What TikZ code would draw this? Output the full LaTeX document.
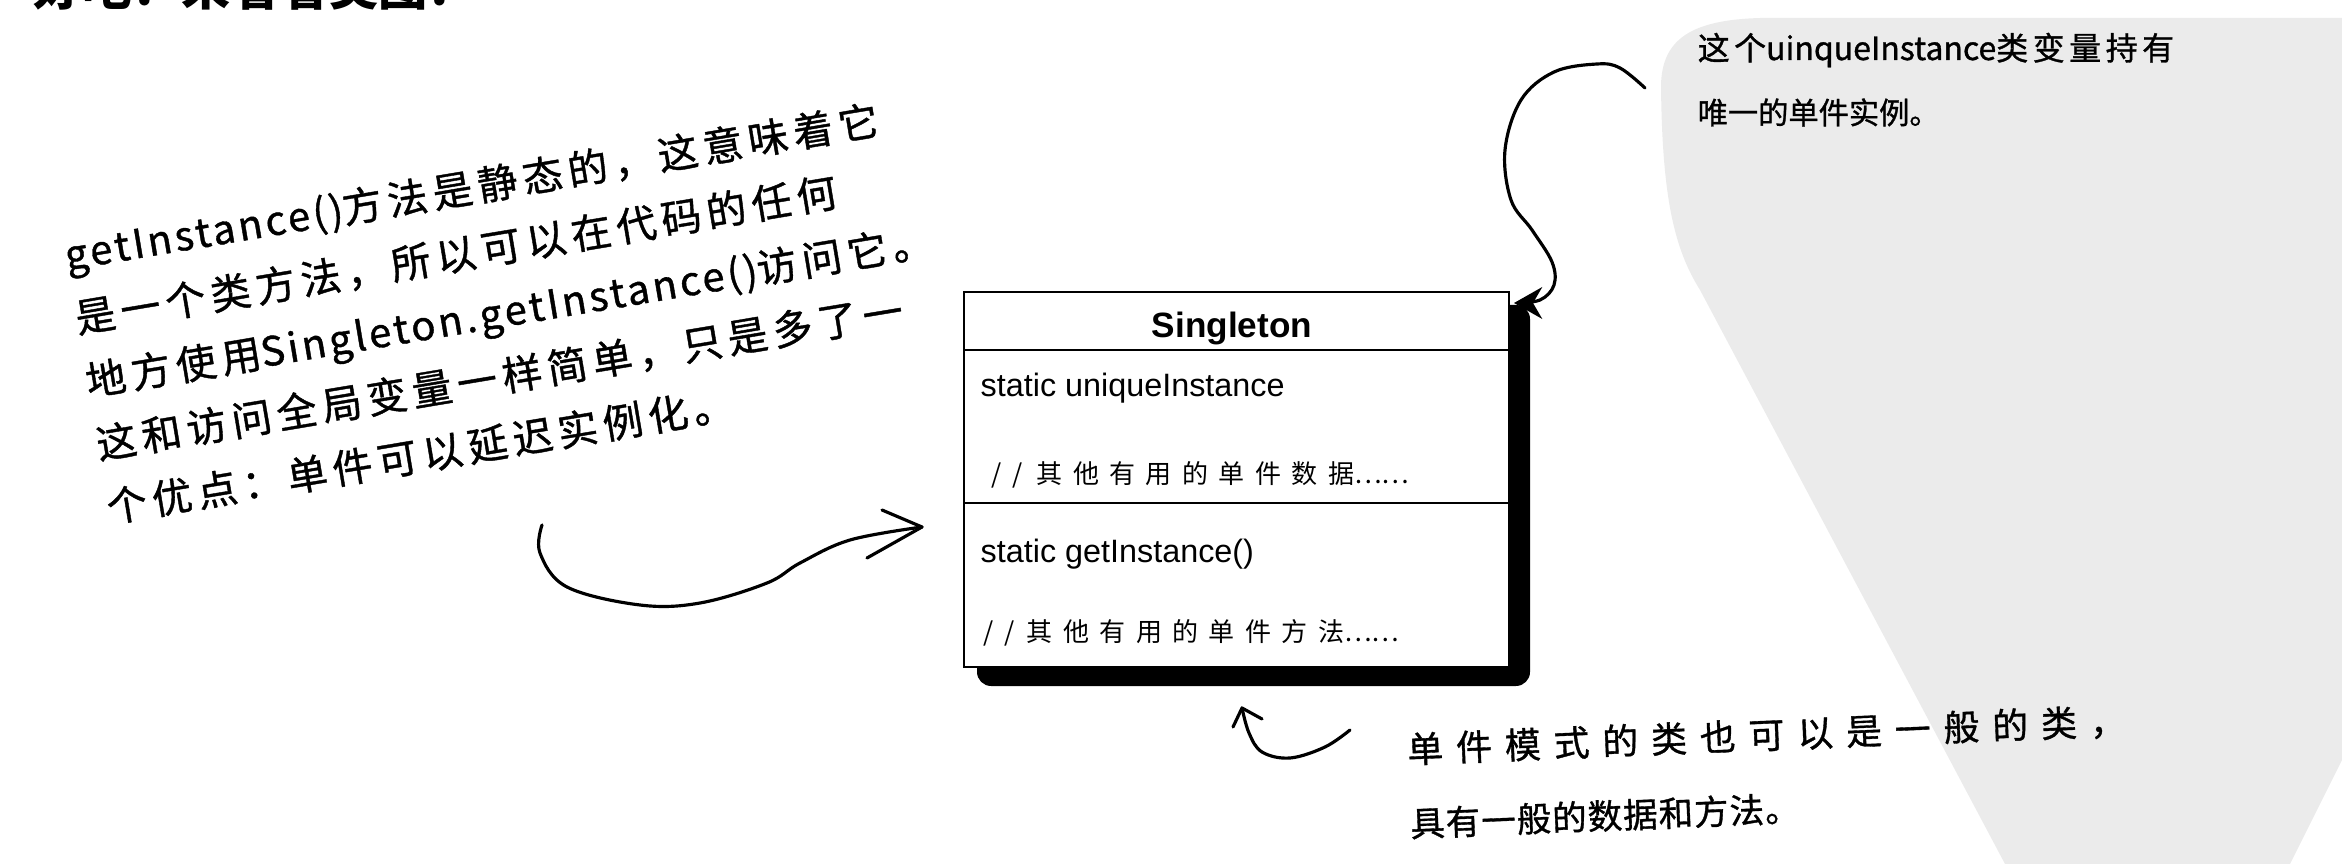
\documentclass[tikz,border=0pt]{standalone}
\usepackage{fontspec}
\setmainfont{Liberation Sans}
\newfontfamily\handA[LetterSpace=14,FakeBold=1]{Noto Sans CJK SC}
\newfontfamily\handLat[LetterSpace=8,FakeBold=1]{Noto Sans CJK SC}
\newfontfamily\handPlain[FakeBold=1]{Noto Sans CJK SC}
\newfontfamily\handB[LetterSpace=36,FakeBold=1]{Noto Sans CJK SC}
\newfontfamily\handC[LetterSpace=3,FakeBold=1]{Noto Sans CJK SC}
\newfontfamily\boxcjk[LetterSpace=40]{Noto Sans CJK SC}
\newfontfamily\boxdots{Noto Sans CJK SC}
\newfontfamily\headfont{Noto Sans CJK SC}
\usetikzlibrary{arrows.meta}
\definecolor{sealgray}{HTML}{EBEBEB}
\tikzset{
  handleft/.style={anchor=north west, inner sep=0pt, rotate=9.5, align=left,
    font=\handA\fontsize{11.4pt}{18.2pt}\selectfont},
  handtop/.style={anchor=base west, inner sep=0pt,
    font=\handA\fontsize{9.1pt}{9.1pt}\selectfont},
  handtoptwo/.style={anchor=base west, inner sep=0pt,
    font=\handPlain\fontsize{8.6pt}{8.6pt}\selectfont},
  handbot/.style={anchor=north west, inner sep=0pt, rotate=2.3, align=left,
    font=\handB\fontsize{10.2pt}{21pt}\selectfont},
  boxline/.style={line width=0.7pt, black},
  classname/.style={anchor=base, inner sep=0pt,
    font=\fontsize{10pt}{10pt}\selectfont\bfseries},
  member/.style={anchor=base west, inner sep=0pt,
    font=\fontsize{9.2pt}{9.2pt}\selectfont},
  cmt/.style={anchor=base west, inner sep=0pt,
    font=\boxcjk\fontsize{7.4pt}{7.4pt}\selectfont},
  penline/.style={line width=0.9pt, line cap=round, line join=round},
  heading/.style={anchor=base west, inner sep=0pt,
    font=\headfont\bfseries\fontsize{14pt}{14pt}\selectfont}
}
\begin{document}
\begin{tikzpicture}[x=0.01cm, y=0.01cm]
\useasboundingbox (0,0) rectangle (2342,-864);
% watermark seal background
\fill[sealgray] (1661,-85) .. controls (1662,-40) and (1690,-20) .. (1760,-18)
  -- (2342,-18) -- (2342,-760) -- (2290,-864) -- (2005,-864)
  -- (1700,-290) .. controls (1675,-250) and (1662,-200) .. cycle;

% cut-off heading
\node[heading] (head) at (33,-6) {好吧：来看看类图：};

% class box
\coordinate (boxNW) at (964,-292);
\coordinate (boxSE) at (1509,-667);
\coordinate (shNW) at (977,-305);
\coordinate (shSE) at (1530,-686);
\fill[black, rounded corners=4pt] (shNW) rectangle (shSE);
\draw[boxline, fill=white] (boxNW) rectangle (boxSE);
\draw[boxline] (964,-350) -- (1509,-350);
\draw[boxline] (964,-503) -- (1509,-503);
\node[classname] (cname) at (1232,-338) {Singleton};
\node[member] (attr) at (980,-397) {static uniqueInstance};
\node[cmt] (attrc) at (991,-484) {//\hspace{4pt}其他有用的单件数据{\boxdots ……}};
\node[member] (meth) at (980,-562) {static getInstance()};
\node[cmt] (methc) at (983,-641) {//\hspace{3.5pt}其他有用的单件方法{\boxdots ……}};

% left annotation (one rotated block)
\node[handleft] (lefttext) at (61,-236) {{\handLat getInstance()}方法是静态的，这意味着它\\
是一个类方法，所以可以在代码的任何\\
地方使用{\handLat Singleton.getInstance()}访问它。\\
这和访问全局变量一样简单，只是多了一\\
个优点：单件可以延迟实例化。};

% top-right annotation
\node[handtop] (t1) at (1697,-60) {这个{\handPlain uinqueInstance}类变量持有};
\node[handtoptwo] (t2) at (1697,-124) {唯一的单件实例。};

% bottom-right annotation (one rotated block)
\node[handbot] (bottext) at (1406,-732) {单件模式的类也可以是一般的类，\\
{\handC\fontsize{9.8pt}{21pt}\selectfont 具有一般的数据和方法。}};

% left arrow
\coordinate (la0) at (542,-525);
\coordinate (latip) at (922,-527);
\draw[penline] plot[smooth, tension=0.6] coordinates {(la0) (540,-553) (567,-587) (640,-605) (700,-603) (767,-583) (800,-563) (850,-540) (latip)};
\draw[penline] (882,-510) -- (latip) -- (867,-558);

% top-right arrow
\coordinate (ta0) at (1645,-88);
\coordinate (tatip) at (1514,-303);
\draw[penline, -{Stealth[length=8pt, width=9pt]}] plot[smooth, tension=0.6] coordinates {(ta0) (1620,-68) (1597,-64) (1554,-72) (1521,-100) (1505,-150) (1511,-200) (1532,-230) (1552,-262) (1554,-285) (1540,-300) (tatip)};

% bottom small arrow
\coordinate (ba0) at (1350,-730);
\coordinate (batip) at (1242,-708);
\draw[penline] plot[smooth, tension=0.6] coordinates {(ba0) (1325,-747) (1290,-758) (1262,-752) (1249,-733) (batip)};
\draw[penline] (1233,-727) -- (batip) -- (1262,-719);
\end{tikzpicture}
\end{document}
